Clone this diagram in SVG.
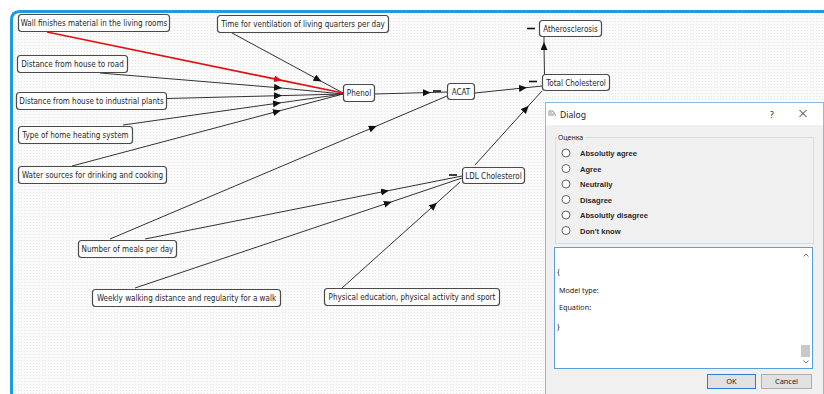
<svg xmlns="http://www.w3.org/2000/svg" width="824" height="394" viewBox="0 0 824 394">
  <defs>
    <pattern id="grid" width="3" height="3" patternUnits="userSpaceOnUse">
      <rect width="3" height="3" fill="#fbfbfb"/>
      <rect width="1" height="1" fill="#e4e4e4"/>
    </pattern>
    <marker id="arr" markerWidth="8" markerHeight="7" refX="4" refY="3.5" orient="auto" markerUnits="userSpaceOnUse">
      <path d="M0,0 L8,3.5 L0,7 z" fill="#111"/>
    </marker>
    <marker id="arr-red" markerWidth="8" markerHeight="7" refX="4" refY="3.5" orient="auto" markerUnits="userSpaceOnUse">
      <path d="M0,0 L8,3.5 L0,7 z" fill="#e01010"/>
    </marker>
    <style>
      .node rect { fill: #ffffff; stroke: #4a4a4a; stroke-width: 1.2; }
      .node text { font-family: "DejaVu Sans Condensed", "Liberation Sans", sans-serif; font-size: 8px; fill: #1e1e1e; text-anchor: middle; }
      .edge { fill: none; stroke: #333; stroke-width: 1; marker-mid: url(#arr); }
      .edge.red { stroke: #e01010; stroke-width: 1.6; marker-mid: url(#arr-red); }
      .minus { stroke: #111; stroke-width: 1.6; }
      .ui { font-family: "Noto Sans", "Liberation Sans", sans-serif; fill: #222; }
      .opt { font-family: "Liberation Sans", sans-serif; font-weight: bold; font-size: 7.6px; fill: #2a2a2a; }
      .radio { fill: #ffffff; stroke: #555; stroke-width: 0.9; }
    </style>
  </defs>

  <!-- page and editor canvas -->
  <rect width="824" height="394" fill="#ffffff"/>
  <path d="M12 394 V20 Q12 12 20 12 H824 V394 Z" fill="url(#grid)"/>
  <path d="M11.5 394 V20 Q11.5 11.5 20 11.5 H824" fill="none" stroke="#1e9be0" stroke-width="3"/>

  <!-- connectors -->
  <g id="connectors">
    <path class="edge" d="M232,33 L318,79.5 L343,93"/>
    <path class="edge" d="M100,73 L278,87.7 L343,94"/>
    <path class="edge" d="M167,98.5 L278,95.7 L343,94"/>
    <path class="edge" d="M123,125 L277,103.3 L343,94"/>
    <path class="edge" d="M72,166 L277,111.5 L343,94"/>
    <path class="edge red" d="M47,32 L278,79.6 L343,93"/>
    <path class="edge" d="M375,94 L426.8,92.6 L447,92"/>
    <path class="edge" d="M110,239 L373,127.5 L447,96"/>
    <path class="edge" d="M145,239 L385,191.3 L462,176"/>
    <path class="edge" d="M135,288 L388,203 L462,178"/>
    <path class="edge" d="M342,288 L434,205.4 L460,182"/>
    <path class="edge" d="M475,165 L526,108.6 L542,91"/>
    <path class="edge" d="M475,93 L523,88 L542,86"/>
    <path class="edge" d="M544.5,74 L544,46 L544,37"/>
  </g>

  <!-- sign marks next to nodes -->
  <g id="signs">
    <line class="minus" x1="433" y1="91" x2="441" y2="91"/>
    <line class="minus" x1="529" y1="81.5" x2="537" y2="81.5"/>
    <line class="minus" x1="527" y1="28.5" x2="535" y2="28.5"/>
    <line class="minus" x1="449" y1="175" x2="457" y2="175"/>
  </g>

  <!-- nodes -->
  <g id="n-wall" class="node"><rect x="18.5" y="14.5" width="151" height="17" rx="3"/><text x="94" y="25.9">Wall finishes material in the living rooms</text></g>
  <g id="n-vent" class="node"><rect x="217.5" y="15.5" width="171" height="17" rx="3"/><text x="303" y="26.9">Time for ventilation of living quarters per day</text></g>
  <g id="n-road" class="node"><rect x="17.5" y="55.5" width="110" height="17" rx="3"/><text x="72.5" y="66.9">Distance from house to road</text></g>
  <g id="n-industrial" class="node"><rect x="16.5" y="92.5" width="150" height="17" rx="3"/><text x="91.5" y="103.9">Distance from house to industrial plants</text></g>
  <g id="n-heating" class="node"><rect x="18.5" y="126.5" width="114" height="17" rx="3"/><text x="75.5" y="137.9">Type of home heating system</text></g>
  <g id="n-water" class="node"><rect x="18.5" y="166.5" width="148" height="17" rx="3"/><text x="92.5" y="177.9">Water sources for drinking and cooking</text></g>
  <g id="n-phenol" class="node"><rect x="343.5" y="84.5" width="31" height="17" rx="3"/><text x="359" y="95.9">Phenol</text></g>
  <g id="n-acat" class="node"><rect x="447.5" y="83.5" width="27" height="16" rx="3"/><text x="461" y="94.5">ACAT</text></g>
  <g id="n-total" class="node"><rect x="542.5" y="74.5" width="67" height="16" rx="3"/><text x="576" y="85.5">Total Cholesterol</text></g>
  <g id="n-athero" class="node"><rect x="539.5" y="20.5" width="62" height="16" rx="3"/><text x="570.5" y="31.5">Atherosclerosis</text></g>
  <g id="n-ldl" class="node"><rect x="462.5" y="167.5" width="62" height="16" rx="3"/><text x="493.5" y="178.5">LDL Cholesterol</text></g>
  <g id="n-meals" class="node"><rect x="78.5" y="240.5" width="98" height="17" rx="3"/><text x="127.5" y="251.9">Number of meals per day</text></g>
  <g id="n-weekly" class="node"><rect x="92.5" y="289.5" width="188" height="17" rx="3"/><text x="186.5" y="300.9">Weekly walking distance and regularity for a walk</text></g>
  <g id="n-physical" class="node"><rect x="324.5" y="288.5" width="175" height="17" rx="3"/><text x="412" y="299.9">Physical education, physical activity and sport</text></g>

  <!-- rating dialog window -->
  <g id="dialog">
    <rect x="545.5" y="102.5" width="278" height="292" fill="#f0f0f0" stroke="#8cb9de" stroke-width="1"/>
    <rect x="546" y="103" width="277" height="22" fill="#ffffff"/>
    <g fill="none" stroke="#777" stroke-width="0.8">
      <path d="M549 116 V111 M551 116 V112 M553 116 V113 M549 111 H553 L556 116"/>
    </g>
    <text class="ui" x="560" y="117.5" font-size="8.6">Dialog</text>
    <text class="ui" x="770" y="117.5" font-size="8.6">?</text>
    <path d="M799.5 110 L806.5 117 M806.5 110 L799.5 117" stroke="#333" stroke-width="1"/>

    <rect x="555.5" y="137.5" width="258" height="106" fill="none" stroke="#dadada"/>
    <rect x="557" y="133" width="28" height="8" fill="#f0f0f0"/>
    <text class="ui" x="558" y="139.5" font-size="7">Оценка</text>

    <circle class="radio" cx="566" cy="153" r="4"/>
    <circle class="radio" cx="566" cy="168.5" r="4"/>
    <circle class="radio" cx="566" cy="184" r="4"/>
    <circle class="radio" cx="566" cy="199.5" r="4"/>
    <circle class="radio" cx="566" cy="215" r="4"/>
    <circle class="radio" cx="566" cy="230.5" r="4"/>
    <text class="opt" x="580" y="156">Absolutly agree</text>
    <text class="opt" x="580" y="171.5">Agree</text>
    <text class="opt" x="580" y="187">Neutrally</text>
    <text class="opt" x="580" y="202.5">Disagree</text>
    <text class="opt" x="580" y="218">Absolutly disagree</text>
    <text class="opt" x="580" y="233.5">Don't know</text>

    <rect x="554.5" y="247.5" width="258" height="121" fill="#ffffff" stroke="#5aa0d8"/>
    <path d="M803.5 256.5 L806 254 L808.5 256.5" fill="none" stroke="#666" stroke-width="0.9"/>
    <path d="M803.5 360.5 L806 363 L808.5 360.5" fill="none" stroke="#666" stroke-width="0.9"/>
    <rect x="801" y="345" width="9" height="12" fill="#c8c8c8"/>
    <text class="ui" x="557" y="274" font-size="7.6">{</text>
    <text class="ui" x="559" y="292.5" font-size="7.2">Model type:</text>
    <text class="ui" x="559" y="309.5" font-size="7.2">Equation:</text>
    <text class="ui" x="557" y="329" font-size="7.6">}</text>

    <rect x="707.5" y="374.5" width="48" height="14" fill="#e1e1e1" stroke="#2b7fd1"/>
    <text class="ui" x="731.5" y="384.3" font-size="7.4" text-anchor="middle">OK</text>
    <rect x="761.5" y="374.5" width="50" height="14" fill="#e1e1e1" stroke="#adadad"/>
    <text class="ui" x="786.5" y="384.3" font-size="7.4" text-anchor="middle">Cancel</text>
  </g>
</svg>
